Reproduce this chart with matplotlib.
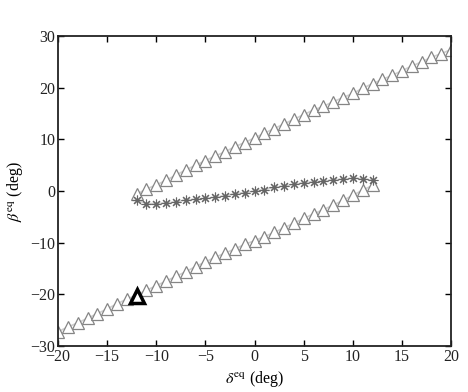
import matplotlib
matplotlib.use("Agg")
import matplotlib.pyplot as plt

plt.rcParams['font.family'] = ['Liberation Serif', 'DejaVu Serif']
plt.rcParams['mathtext.fontset'] = 'stix'

# Upper branch of triangles
delta_upper = list(range(-12, 21))
beta_upper = [-0.6, 0.4, 1.2, 2.1, 3.1, 4.1, 5.0, 5.9, 6.8, 7.6, 8.6,
              9.4, 10.3, 11.2, 12.1, 13.0, 13.9, 14.8, 15.7, 16.4, 17.3,
              18.1, 18.9, 19.9, 20.8, 21.6, 22.4, 23.3, 24.2, 25.0, 25.9,
              26.6, 27.4]

# Lower branch of triangles
delta_lower = list(range(-20, 13))
beta_lower = [-27.2, -26.3, -25.5, -24.6, -23.7, -22.8, -21.8, -20.9, -20.1,
              -19.2, -18.3, -17.4, -16.5, -15.6, -14.6, -13.7, -12.8, -12.0,
              -11.2, -10.3, -9.6, -8.8, -8.0, -7.1, -6.2, -5.3, -4.4, -3.6,
              -2.7, -1.8, -0.8, 0.2, 1.1]

# Middle branch (asterisks)
delta_mid = list(range(-12, 13))
beta_mid = [-1.8, -2.4, -2.4, -2.3, -2.1, -1.7, -1.6, -1.4, -1.2, -0.9, -0.5,
            -0.3, 0.0, 0.3, 0.7, 1.0, 1.3, 1.6, 1.8, 1.9, 2.2, 2.3, 2.5, 2.4, 2.1]

# Highlighted point
delta_hl = [-12]
beta_hl = [-20.3]

xticks = [-20, -15, -10, -5, 0, 5, 10, 15, 20]
yticks = [-30, -20, -10, 0, 10, 20, 30]

fig = plt.figure(figsize=(4.68, 3.92), dpi=100)
ax = fig.add_axes([0.124, 0.117, 0.840, 0.791])

tri_kw = dict(marker='^', markersize=8, markerfacecolor='white',
              markeredgecolor='#858585', markeredgewidth=0.9,
              color='#cfcfcf', linewidth=1.2)
ax.plot(delta_upper, beta_upper, **tri_kw)
ax.plot(delta_lower, beta_lower, **tri_kw)
ax.plot(delta_mid, beta_mid, marker=(8, 2, 0), markersize=7,
        color='#cfcfcf', markeredgecolor='#666666', markeredgewidth=0.8,
        linewidth=1.2)
ax.plot(delta_hl, beta_hl, linestyle='none', marker='^', markersize=10,
        markerfacecolor='white', markeredgecolor='black', markeredgewidth=2.5)

ax.set_xlim(-20, 20)
ax.set_ylim(-30, 30)
ax.set_xticks(xticks)
ax.set_yticks(yticks)
ax.tick_params(direction='in', length=4, width=1.0, top=True, right=True,
               labelsize=11.5, pad=2, colors='black', labelcolor='#222222')
for s in ax.spines.values():
    s.set_linewidth(1.3)
    s.set_color('#222222')

ax.set_xlabel(r'$\delta^{\rm eq}$ (deg)', fontsize=11.5, labelpad=3)
ax.set_ylabel(r'$\beta^{\rm eq}$ (deg)', fontsize=11.5, labelpad=4)

fig.savefig('out.png', dpi=100)
